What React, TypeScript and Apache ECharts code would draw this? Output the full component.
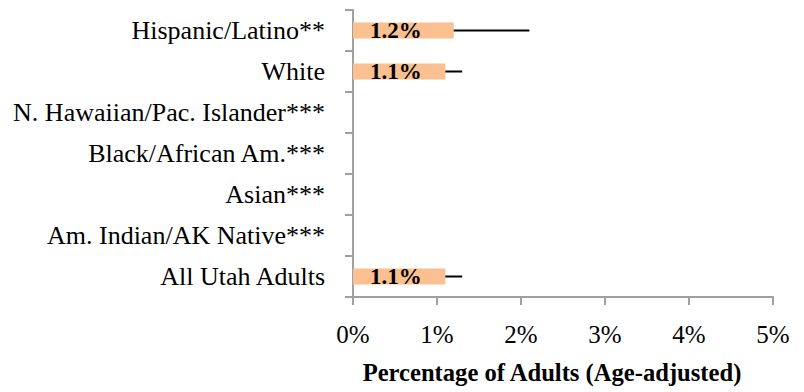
import React, { useEffect, useRef } from "react";
import * as echarts from "echarts";

const categories = [
  "All Utah Adults",
  "Am. Indian/AK Native***",
  "Asian***",
  "Black/African Am.***",
  "N. Hawaiian/Pac. Islander***",
  "White",
  "Hispanic/Latino**",
];
const values: (number | null)[] = [1.1, null, null, null, null, 1.1, 1.2];
const lowerCI: (number | null)[] = [0.9, null, null, null, null, 0.8, 0.7];
const upperCI: (number | null)[] = [1.3, null, null, null, null, 1.3, 2.1];
const xTicks = [0, 1, 2, 3, 4, 5];

const FONT = "Liberation Serif";

export default function App() {
  const ref = useRef<HTMLDivElement>(null);
  useEffect(() => {
    if (!ref.current) return;
    const chart = echarts.init(ref.current, undefined, { renderer: "svg" });
    const errData = categories
      .map((_, i) => [i, lowerCI[i], upperCI[i]])
      .filter((d) => d[1] != null && d[2] != null);
    chart.setOption({
      animation: false,
      grid: { left: 353, right: 31, top: 10, bottom: 95, containLabel: false },
      xAxis: {
        type: "value",
        min: xTicks[0],
        max: xTicks[xTicks.length - 1],
        interval: 1,
        axisLine: { show: true, lineStyle: { color: "#A0A0A0", width: 2 } },
        axisTick: { show: true, length: 8, lineStyle: { color: "#A0A0A0", width: 2 } },
        splitLine: { show: false },
        axisLabel: {
          formatter: "{value}%",
          fontFamily: FONT,
          fontSize: 25,
          color: "#000",
          margin: 25,
        },
      },
      yAxis: {
        type: "category",
        data: categories,
        axisLine: { show: true, lineStyle: { color: "#A0A0A0", width: 2 } },
        axisTick: { show: true, length: 8, lineStyle: { color: "#A0A0A0", width: 2 } },
        axisLabel: {
          interval: 0,
          fontFamily: FONT,
          fontSize: 26,
          color: "#000",
          margin: 28,
        },
        splitLine: { show: false },
      },
      graphic: [
        {
          type: "text",
          x: 552,
          y: 372,
          style: {
            text: "Percentage of Adults (Age-adjusted)",
            fontFamily: FONT,
            fontSize: 24.6,
            fontWeight: "bold",
            fill: "#000",
            textAlign: "center",
            textVerticalAlign: "middle",
          },
        },
      ],
      series: [
        {
          type: "bar",
          data: values.map((v) => (v == null ? "-" : v)),
          barWidth: 16,
          itemStyle: { color: "#FAC090" },
          label: {
            show: true,
            position: "insideLeft",
            distance: 17,
            formatter: (p: any) => p.value.toFixed(1) + "%",
            fontFamily: FONT,
            fontSize: 23,
            fontWeight: "bold",
            color: "#000",
          },
          z: 2,
        },
        {
          type: "custom",
          data: errData,
          z: 1,
          renderItem: (params: any, api: any) => {
            const idx = api.value(0);
            const p1 = api.coord([api.value(1), idx]);
            const p2 = api.coord([api.value(2), idx]);
            return {
              type: "line",
              shape: { x1: p1[0], y1: p1[1], x2: p2[0], y2: p2[1] },
              style: { stroke: "#000", lineWidth: 2 },
            };
          },
          encode: { x: [1, 2], y: 0 },
        },
      ],
    });
    return () => chart.dispose();
  }, []);
  return (
    <div
      ref={ref}
      style={{ position: "fixed", left: 0, top: 0, width: 804, height: 392, background: "#fff" }}
    />
  );
}
